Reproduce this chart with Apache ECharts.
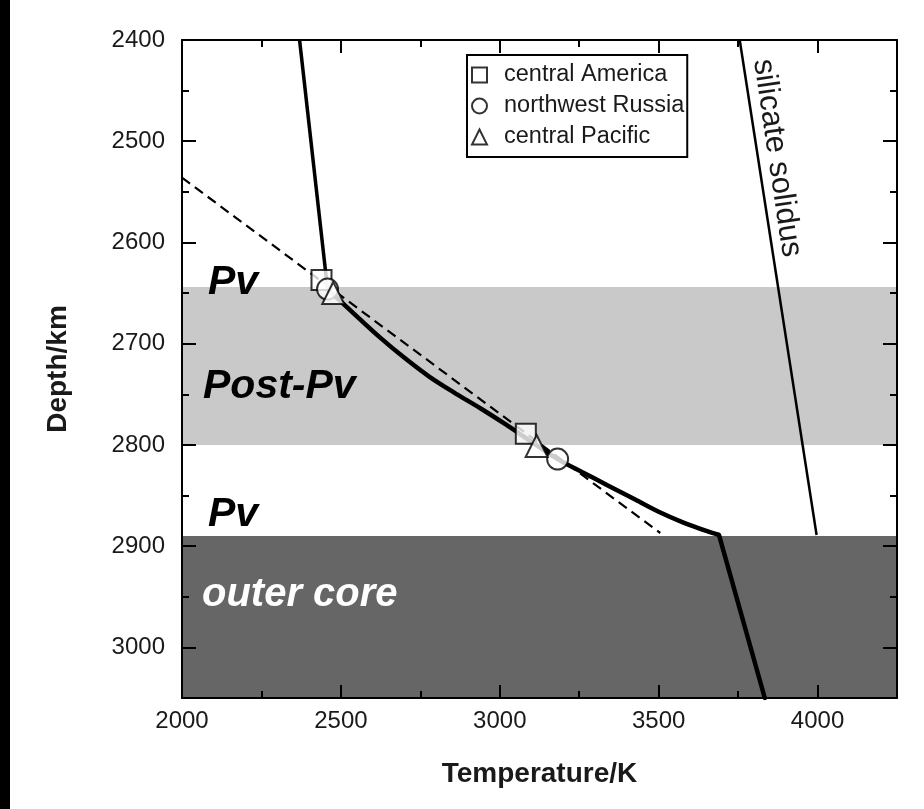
<!DOCTYPE html>
<html>
<head>
<meta charset="utf-8">
<script src="https://cdn.jsdelivr.net/npm/echarts@6/dist/echarts.min.js"></script>
<style>
  html, body { margin: 0; padding: 0; background: #fff; }
  #chart { width: 924px; height: 809px; }
</style>
</head>
<body>
<div id="chart"></div>
<script>
// Depth ranges of the shaded layers (km)
const postPvLayer = [2644, 2800];
const outerCoreLayer = [2890, 3050];

// Geotherm, [temperature K, depth km]
const geothermUpper = [[2370, 2400], [2458, 2646]];
const geothermCurve = [
  [2458, 2646], [2540, 2670], [2620, 2693], [2700, 2714], [2780, 2733],
  [2860, 2749], [2940, 2764], [3020, 2780], [3100, 2797], [3182, 2814],
  [3260, 2827], [3340, 2840], [3420, 2853], [3500, 2866], [3580, 2877],
  [3650, 2885], [3690, 2889]
];
const geothermCore = [[3690, 2889], [3834, 3050]];

// Straight-line fit and silicate solidus
const linearFit = [[2000, 2536], [3505, 2887]];
const silicateSolidus = [[3755, 2400], [3997, 2889]];

// Phase-boundary crossings for each region
const centralAmerica = [[2439, 2637], [3082, 2789]];
const northwestRussia = [[2458, 2646], [3182, 2814]];
const centralPacific = [[2476, 2650], [3116, 2801]];

const FONT = '"Liberation Sans", Arial, Helvetica, sans-serif';
const chart = echarts.init(document.getElementById('chart'), null, { renderer: 'canvas' });

const lineStyleAxis = { color: '#000', width: 2 };

function xAx(position, interval, len, showLine, labels) {
  return {
    type: 'value', position, min: 2000, max: 4250, interval, z: 10,
    axisLine: { show: showLine, onZero: false, lineStyle: lineStyleAxis },
    axisTick: { show: true, inside: true, length: len, lineStyle: lineStyleAxis },
    axisLabel: labels ? {
      show: true, fontSize: 24, color: '#1a1a1a', fontFamily: FONT, margin: 11,
      formatter: v => (v % 500 === 0 && v <= 4000) ? String(v) : ''
    } : { show: false },
    splitLine: { show: false },
    name: labels ? 'Temperature/K' : '',
    nameLocation: 'middle', nameGap: 62,
    nameTextStyle: { fontSize: 28, fontWeight: 'bold', color: '#1a1a1a', fontFamily: FONT }
  };
}
function yAx(position, interval, len, showLine, labels) {
  return {
    type: 'value', position, min: 2400, max: 3050, interval, inverse: true, z: 10,
    axisLine: { show: showLine, onZero: false, lineStyle: lineStyleAxis },
    axisTick: { show: true, inside: true, length: len, lineStyle: lineStyleAxis },
    axisLabel: labels ? {
      show: true, fontSize: 24, color: '#1a1a1a', fontFamily: FONT, margin: 17,
      formatter: v => (v % 100 === 0 && v <= 3000) ? String(v) : ''
    } : { show: false },
    splitLine: { show: false },
    name: labels ? 'Depth/km' : '',
    nameLocation: 'middle', nameGap: 110,
    nameTextStyle: { fontSize: 28, fontWeight: 'bold', color: '#1a1a1a', fontFamily: FONT }
  };
}

const markerStyle = { color: '#fff', borderColor: '#000', borderWidth: 2 };

chart.setOption({
  animation: false,
  backgroundColor: '#fff',
  grid: { left: 182, right: 27, top: 40, bottom: 111, containLabel: false },
  xAxis: [
    xAx('bottom', 500, 13, true, true),
    xAx('bottom', 250, 7, false, false),
    xAx('top', 500, 13, true, false),
    xAx('top', 250, 7, false, false)
  ],
  yAxis: [
    yAx('left', 100, 14, true, true),
    yAx('left', 50, 7, false, false),
    yAx('right', 100, 14, true, false),
    yAx('right', 50, 7, false, false)
  ],
  legend: {
    left: 467, top: 55, orient: 'vertical',
    padding: [8, 3, 8, 4],
    itemGap: 7, itemWidth: 15, itemHeight: 15,
    borderColor: '#000', borderWidth: 2, backgroundColor: '#fff',
    selectedMode: false,
    textStyle: { fontSize: 23.5, color: '#1a1a1a', fontFamily: FONT, padding: [0, 0, 0, 12] },
    data: [
      { name: 'central America', icon: 'rect' },
      { name: 'northwest Russia', icon: 'circle' },
      { name: 'central Pacific', icon: 'triangle' }
    ]
  },
  graphic: [
    { type: 'rect', left: 0, top: 0, shape: { width: 10, height: 809 }, style: { fill: '#000' }, z: 20 },
    { type: 'text', left: 208, top: 262, z: 15,
      style: { text: 'Pv', fontSize: 41, fontWeight: 'bold', fontStyle: 'italic', fontFamily: FONT, fill: '#000', verticalAlign: 'middle' } },
    { type: 'text', left: 203, top: 366, z: 15,
      style: { text: 'Post-Pv', fontSize: 41, fontWeight: 'bold', fontStyle: 'italic', fontFamily: FONT, fill: '#000', verticalAlign: 'middle' } },
    { type: 'text', left: 208, top: 494, z: 15,
      style: { text: 'Pv', fontSize: 41, fontWeight: 'bold', fontStyle: 'italic', fontFamily: FONT, fill: '#000', verticalAlign: 'middle' } },
    { type: 'text', left: 202, top: 575, z: 15,
      style: { text: 'outer core', fontSize: 40, fontWeight: 'bold', fontStyle: 'italic', fontFamily: FONT, fill: '#fff', verticalAlign: 'middle' } },
    { type: 'text', x: 777, y: 158, rotation: -81.6 * Math.PI / 180, z: 15,
      style: { text: 'silicate solidus', fontSize: 31, fontFamily: FONT, fill: '#1a1a1a', align: 'center', verticalAlign: 'middle' } }
  ],
  series: [
    {
      name: 'layers', type: 'line', data: [], z: 1, silent: true,
      markArea: {
        silent: true,
        data: [
          [{ yAxis: postPvLayer[0], itemStyle: { color: '#c9c9c9' } }, { yAxis: postPvLayer[1] }],
          [{ yAxis: outerCoreLayer[0], itemStyle: { color: '#666666' } }, { yAxis: outerCoreLayer[1] }]
        ]
      }
    },
    { name: 'silicate solidus', type: 'line', data: silicateSolidus, symbol: 'none', silent: true, z: 3,
      lineStyle: { color: '#000', width: 2.5 } },
    { name: 'fit', type: 'line', data: linearFit, symbol: 'none', silent: true, z: 3,
      lineStyle: { color: '#000', width: 2.2, type: [10, 6] } },
    { name: 'geotherm upper', type: 'line', data: geothermUpper, symbol: 'none', silent: true, z: 3,
      lineStyle: { color: '#000', width: 3.5 } },
    { name: 'geotherm', type: 'line', data: geothermCurve, symbol: 'none', silent: true, z: 3, smooth: 0.3,
      lineStyle: { color: '#000', width: 4.5 } },
    { name: 'geotherm core', type: 'line', data: geothermCore, symbol: 'none', silent: true, z: 3,
      lineStyle: { color: '#000', width: 4.5, cap: 'round', join: 'round' } },
    { name: 'central America', type: 'scatter', data: centralAmerica, symbol: 'rect', symbolSize: 20, z: 5,
      itemStyle: markerStyle },
    { name: 'northwest Russia', type: 'scatter', data: northwestRussia, symbol: 'circle', symbolSize: 21, z: 6,
      itemStyle: markerStyle },
    { name: 'central Pacific', type: 'scatter', data: centralPacific, symbol: 'triangle', symbolSize: 22, z: 7,
      itemStyle: markerStyle }
  ]
});
</script>
</body>
</html>
